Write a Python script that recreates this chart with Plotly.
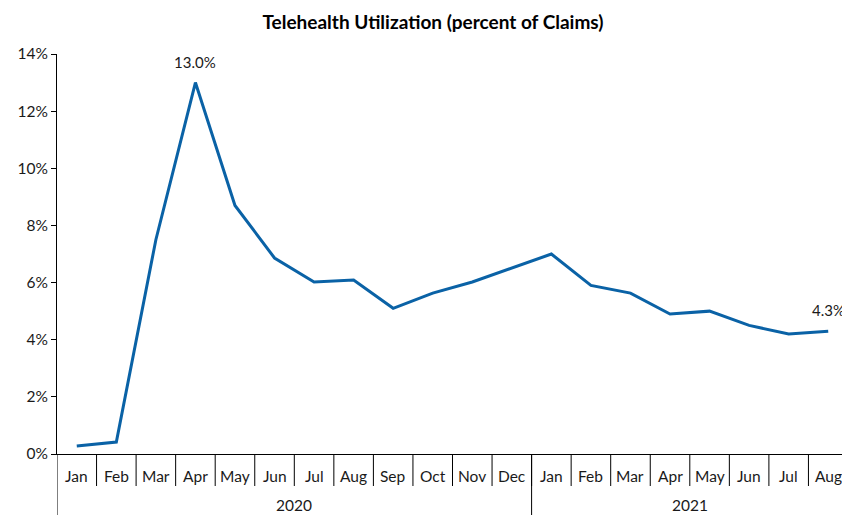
import plotly.graph_objects as go

months = ["Jan","Feb","Mar","Apr","May","Jun","Jul","Aug","Sep","Oct","Nov","Dec",
          "Jan","Feb","Mar","Apr","May","Jun","Jul","Aug"]
years = ["2020"] * 12 + ["2021"] * 8
values = [0.28, 0.42, 7.5, 13.0, 8.7, 6.86, 6.02, 6.09, 5.1, 5.63, 6.02, 6.5,
          7.0, 5.9, 5.63, 4.9, 5.0, 4.5, 4.2, 4.3]
labelled = {3: "13.0%", 19: "4.3%"}

FONT = "Lato"
TXT = "#1a1a1a"
idx = list(range(len(months)))

fig = go.Figure()
fig.add_trace(go.Scatter(
    x=idx, y=values, mode="lines",
    line=dict(color="#0A62A6", width=3),
    hoverinfo="skip", showlegend=False,
))
for i, t in labelled.items():
    fig.add_annotation(x=i, y=values[i], text=t, showarrow=False, yanchor="middle",
                       yshift=21, font=dict(family=FONT, size=15, color=TXT))

# month labels and separators
for i, m in enumerate(months):
    fig.add_annotation(x=i, y=-0.055, xref="x", yref="paper", text=m, showarrow=False,
                       yanchor="middle", font=dict(family=FONT, size=15.5, color=TXT))
for i in range(len(months) - 1):
    fig.add_shape(type="line", x0=i + 0.5, x1=i + 0.5, y0=0, y1=-0.08,
                  xref="x", yref="paper", line=dict(color="black", width=1))

# year groups
groups = []
for i, y in enumerate(years):
    if not groups or groups[-1][0] != y:
        groups.append([y, i, i])
    else:
        groups[-1][2] = i
for y, a, b in groups:
    fig.add_annotation(x=(a + b) / 2, y=-0.127, xref="x", yref="paper", text=y,
                       showarrow=False, yanchor="middle",
                       font=dict(family=FONT, size=15.5, color=TXT))
    fig.add_shape(type="line", x0=a - 0.5, x1=a - 0.5, y0=0, y1=-0.16,
                  xref="x", yref="paper", line=dict(color="black", width=1))

fig.update_layout(
    width=842, height=507,
    margin=dict(l=49, r=2, t=46, b=61),
    paper_bgcolor="white", plot_bgcolor="white",
    title=dict(text="<b>Telehealth Utilization (percent of Claims)</b>",
               x=(433 - 8) / 842, xanchor="center", y=1 - 14 / 507, yanchor="middle",
               font=dict(family=FONT, size=19, color="black")),
    xaxis=dict(range=[-0.5, len(months) - 0.5], showticklabels=False, ticks="",
               showgrid=False, zeroline=False, showline=True, linecolor="black",
               linewidth=1),
    yaxis=dict(range=[0, 14], dtick=2, ticksuffix="%", showgrid=False, zeroline=False,
               showline=True, linecolor="black", linewidth=1, ticks="outside",
               ticklen=5, tickcolor="black",
               tickfont=dict(family=FONT, size=15.5, color=TXT)),
)

fig.write_html("out.html")
